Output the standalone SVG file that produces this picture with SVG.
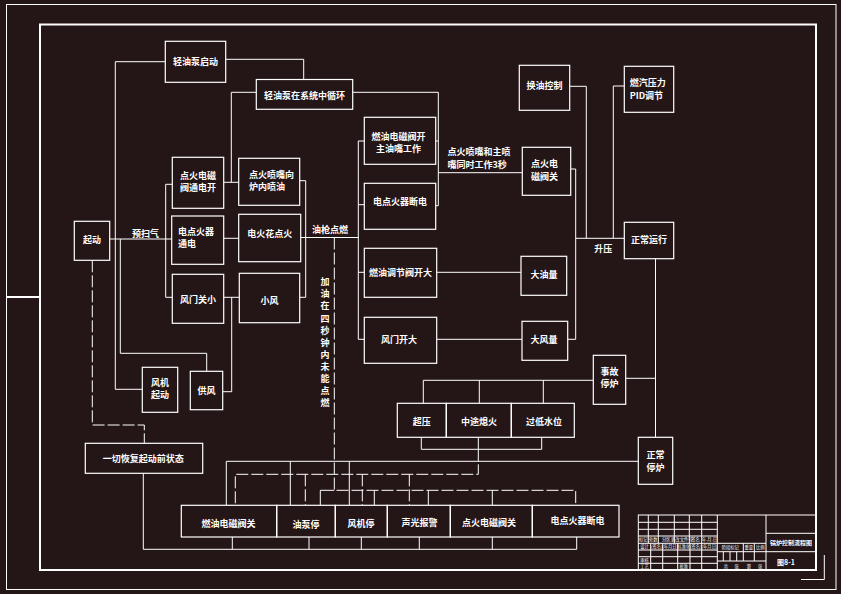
<svg xmlns="http://www.w3.org/2000/svg" width="841" height="594" viewBox="0 0 841 594">
<style>
.b{fill:none;stroke:#fff;stroke-width:1.2}
.c{fill:none;stroke:#fff;stroke-width:1}
.d{fill:none;stroke:#fff;stroke-width:1;stroke-dasharray:12 3}
.f{fill:none;stroke:#fff}
text{font-family:"Noto Sans CJK SC","Noto Sans",sans-serif;font-size:9px;font-weight:bold;fill:#fff}
.m{text-anchor:middle}
.t{font-size:4.3px;font-weight:normal;text-anchor:middle}
</style>
<rect x="0" y="0" width="841" height="594" fill="#241517"/>
<g id="frame">
<rect class="f" x="6.5" y="4.5" width="829.5" height="585" stroke-width="1"/>
<rect class="f" x="40" y="24.5" width="776" height="545.5" stroke-width="2"/>
<path class="f" d="M6.5,297 H40" stroke-width="2"/>
<path class="c" d="M824.3,555 V579.5 H801"/>
</g>
<g id="connectors">
<path class="c" d="M165.3,61.7 H115.3 V389.3 H142.3"/>
<path class="c" d="M225.7,59.3 H303.7 V79.3"/>
<path class="c" d="M256.3,92.3 H231.3 V182.3 M223.7,182.3 H238.7"/>
<path class="c" d="M352.7,92.3 H438.3 V205.7 H435.7 M435.7,141 H438.3"/>
<path class="c" d="M438.3,172.7 H522.3"/>
<path class="c" d="M109.7,239 H171.7"/>
<path class="c" d="M172.3,184.3 H165.7 V297.3 H172.3"/>
<path class="c" d="M120.3,239 V353.3 H206.7 V371.3"/>
<path class="c" d="M222.7,391.7 H231.7 V297.3"/>
<path class="c" d="M223.7,297.3 H239.3"/>
<path class="c" d="M223.7,238.3 H238.7"/>
<path class="c" d="M299.7,180.7 H305.7 V297.3 H299.7"/>
<path class="c" d="M300.7,237.5 H358.3"/>
<path class="c" d="M364.3,141 H358.3 V339.3 H364.3 M358.3,204.7 H364.3 M358.3,272.3 H364.3"/>
<path class="c" d="M436.7,272.3 H521"/>
<path class="c" d="M436.7,339.3 H522"/>
<path class="c" d="M570.7,169 H575.7 V339.3 H567.7"/>
<path class="c" d="M575.7,238.3 H624.3"/>
<path class="c" d="M569.7,86.3 H586.3 V238.3"/>
<path class="c" d="M624.3,86 H613.3 V238.3"/>
<path class="c" d="M655.5,258.7 V437.3"/>
<path class="c" d="M625.7,378.3 H655.5"/>
<path class="c" d="M593.3,380.3 H423.3 V403.3 M479.3,380.3 V403.3 M543.3,380.3 V403.3"/>
<path class="c" d="M421.3,437.3 V449.3 H541.7 V437.3 M478.3,437.3 V449.3"/>
<path class="c" d="M638.3,461.3 H226.3 V505.3 M290.3,461.3 V505.3 M349.3,461.3 V505.3"/>
<path class="c" d="M320.3,505.3 V490.3 H334.3 M374.3,490.3 V505.3 M428.3,490.3 V505.3 M492.3,490.3 V505.3"/>
<path class="c" d="M143.3,473.3 V549.3 H576.7 V537 M232.3,549.3 V537 M309,549.3 V537 M361.3,549.3 V537 M419.3,549.3 V537 M492.3,549.3 V537"/>
<path class="d" d="M92.3,260.3 V425 H144.3 V443.3"/>
<path class="d" d="M334.3,237.5 V490.3 H575.7 V505.3"/>
<path class="d" d="M478.3,449.3 V474.3 H235.3 V505.3 M305.3,474.3 V505.3 M362.3,474.3 V505.3 M409.3,474.3 V505.3"/>
</g>
<g id="n_qybqd"><rect class="b" x="165.3" y="41.3" width="60.4" height="41"/><text class="m" x="195.5" y="64.5">轻油泵启动</text></g>
<g id="n_qybxh"><rect class="b" x="256.3" y="79.5" width="96.4" height="29.8"/><text class="m" x="304.5" y="98.5">轻油泵在系统中循环</text></g>
<g id="n_dhdcf"><rect class="b" x="172.3" y="157.3" width="51.4" height="51"/><text class="m" x="198" y="179">点火电磁<tspan x="198" dy="12.2">阀通电开</tspan></text></g>
<g id="n_dhpz"><rect class="b" x="238.7" y="158.3" width="61" height="47"/><text x="249" y="177.5">点火喷嘴向<tspan x="249" dy="12.2">炉内喷油</tspan></text></g>
<g id="n_ddhq"><rect class="b" x="171.7" y="216" width="52" height="48.3"/><text x="178" y="235">电点火器<tspan x="178" dy="12.2">通电</tspan></text></g>
<g id="n_dhh"><rect class="b" x="238.7" y="214.3" width="62" height="47.4"/><text class="m" x="269.7" y="236.5">电火花点火</text></g>
<g id="n_fmgx"><rect class="b" x="172.3" y="274.3" width="51.4" height="49"/><text class="m" x="198" y="302.5">风门关小</text></g>
<g id="n_xf"><rect class="b" x="239.3" y="273.3" width="60.4" height="49.4"/><text class="m" x="269.5" y="303.5">小风</text></g>
<g id="n_qd"><rect class="b" x="74.3" y="221.3" width="35.4" height="39"/><text class="m" x="92" y="242.5">起动</text></g>
<g id="n_fjqd"><rect class="b" x="142.3" y="367.3" width="35.4" height="45"/><text class="m" x="160" y="385.5">风机<tspan x="160" dy="12.5">起动</tspan></text></g>
<g id="n_gf"><rect class="b" x="190.3" y="371.3" width="32.4" height="38.4"/><text class="m" x="206.5" y="393.5">供风</text></g>
<g id="labels">
<text class="m" x="145.5" y="237">预扫气</text>
<text class="m" x="330" y="232.5">油枪点燃</text>
<text x="447.5" y="155">点火喷嘴和主喷<tspan x="447.5" dy="12.5">嘴同时工作3秒</tspan></text>
<text class="m" x="603.3" y="251.5">升压</text>
<text class="m" x="325" y="285.2">加<tspan x="325" dy="12.1">油</tspan><tspan x="325" dy="12.1">在</tspan><tspan x="325" dy="12.1">四</tspan><tspan x="325" dy="12.1">秒</tspan><tspan x="325" dy="12.1">钟</tspan><tspan x="325" dy="12.1">内</tspan><tspan x="325" dy="12.1">未</tspan><tspan x="325" dy="12.1">能</tspan><tspan x="325" dy="12.1">点</tspan><tspan x="325" dy="12.1">燃</tspan></text>
</g>
<g id="n_ryfk"><rect class="b" x="364.3" y="117.3" width="71.4" height="47"/><text class="m" x="398.5" y="139.5">燃油电磁阀开<tspan x="398.5" dy="12.2">主油嘴工作</tspan></text></g>
<g id="n_ddhdd"><rect class="b" x="364.3" y="183.3" width="71.4" height="46"/><text class="m" x="400" y="205">电点火器断电</text></g>
<g id="n_rytj"><rect class="b" x="364.3" y="248.3" width="72.4" height="49"/><text class="m" x="400.5" y="275.5">燃油调节阀开大</text></g>
<g id="n_fmkd"><rect class="b" x="364.3" y="317.3" width="72.4" height="46"/><text class="m" x="399" y="342.5">风门开大</text></g>
<g id="n_dyl"><rect class="b" x="521" y="256.3" width="45.7" height="39"/><text class="m" x="544" y="278">大油量</text></g>
<g id="n_dfl"><rect class="b" x="522" y="321.3" width="45.7" height="39"/><text class="m" x="544" y="343">大风量</text></g>
<g id="n_dhdcg"><rect class="b" x="522.3" y="147.3" width="48.4" height="48"/><text x="531" y="167">点火电<tspan x="531" dy="12.5">磁阀关</tspan></text></g>
<g id="n_hykz"><rect class="b" x="519.3" y="65.3" width="50.4" height="45"/><text class="m" x="544.5" y="88.5">换油控制</text></g>
<g id="n_pid"><rect class="b" x="624.3" y="66.3" width="49.4" height="46"/><text x="629.7" y="86">燃汽压力<tspan x="629.7" dy="12.5">PID调节</tspan></text></g>
<g id="n_zcyx"><rect class="b" x="624.3" y="222.3" width="49.4" height="36.4"/><text class="m" x="649" y="242.5">正常运行</text></g>
<g id="n_sgtl"><rect class="b" x="593.3" y="355.3" width="32.4" height="49"/><text class="m" x="609.5" y="375">事故<tspan x="609.5" dy="12.2">停炉</tspan></text></g>
<g id="n_zctl"><rect class="b" x="638.3" y="437.3" width="34.4" height="47"/><text class="m" x="655.5" y="458.3">正常<tspan x="655.5" dy="12.2">停炉</tspan></text></g>
<g id="n_cy"><rect class="b" x="397.3" y="403.3" width="49" height="34"/><text class="m" x="421.8" y="424.5">超压</text></g>
<g id="n_ztxh"><rect class="b" x="446.3" y="403.3" width="65" height="34"/><text class="m" x="479" y="425">中途熄火</text></g>
<g id="n_gdsw"><rect class="b" x="511.3" y="403.3" width="63" height="34"/><text class="m" x="544" y="425">过低水位</text></g>
<g id="n_hf"><rect class="b" x="85.3" y="443.3" width="117.4" height="30"/><text class="m" x="143.3" y="461.5">一切恢复起动前状态</text></g>
<g id="n_b1"><rect class="b" x="181.3" y="505.3" width="95.4" height="31.7"/><text class="m" x="228.5" y="527">燃油电磁阀关</text></g>
<g id="n_b2"><rect class="b" x="276.7" y="505.3" width="58.6" height="31.7"/><text class="m" x="306" y="528">油泵停</text></g>
<g id="n_b3"><rect class="b" x="335.3" y="505.3" width="52" height="31.7"/><text class="m" x="361" y="527">风机停</text></g>
<g id="n_b4"><rect class="b" x="387.3" y="505.3" width="63" height="31.7"/><text class="m" x="419.5" y="526">声光报警</text></g>
<g id="n_b5"><rect class="b" x="450.3" y="505.3" width="82" height="31.7"/><text class="m" x="489" y="525.5">点火电磁阀关</text></g>
<g id="n_b6"><rect class="b" x="532.3" y="505.3" width="86.7" height="31.7"/><text class="m" x="577.5" y="524">电点火器断电</text></g>
<g id="titleblock">
<rect class="c" x="638.3" y="515" width="177.7" height="55"/>
<path class="c" d="M717.3,515 V570 M766,515 V570 M638.3,522.3 H717.3 M638.3,529.3 H717.3 M638.3,536 H717.3 M638.3,543.3 H766 M638.3,550 H717.3 M638.3,556.7 H717.3 M638.3,563.3 H717.3 M648.3,515 V543.3 M658.3,515 V543.3 M674.3,515 V543.3 M689.3,515 V543.3 M701.7,515 V570 M650.7,543.3 V570 M662.7,543.3 V570 M677.7,543.3 V570 M690,543.3 V570 M717.3,551.7 H766 M717.3,561 H766 M743.3,543.3 V561 M754.3,543.3 V561 M723.3,551.7 V561 M730,551.7 V561 M736.7,551.7 V561 M766,533.3 H816 M766,551.7 H816"/>
<text class="t" x="643.3" y="541">标记</text><text class="t" x="653.3" y="541">处数</text><text class="t" x="666.3" y="541">分区</text><text class="t" x="681.8" y="541">更改文件号</text><text class="t" x="695.5" y="541">签名</text><text class="t" x="709.5" y="541">年.月.日</text>
<text class="t" x="644.5" y="548">设计</text><text class="t" x="656.7" y="548">(签名)</text><text class="t" x="670.2" y="548">(年月日)</text><text class="t" x="683.8" y="548">标准化</text><text class="t" x="695.8" y="548">(签名)</text><text class="t" x="709.5" y="548">(年月日)</text>
<text class="t" x="730.3" y="549">阶段标记</text><text class="t" x="748.8" y="549">重量</text><text class="t" x="760.2" y="549">比例</text>
<text class="t" x="644.5" y="561.5">审核</text>
<text class="t" x="644.5" y="568.2">工艺</text><text class="t" x="683.8" y="568.2">批准</text>
<text class="t" x="726" y="567.5">共</text><text class="t" x="736.7" y="567.5">张</text><text class="t" x="748.8" y="567.5">第</text><text class="t" x="760.2" y="567.5">张</text>
<text class="m" x="791" y="545" style="font-size:6px">锅炉控制流程图</text>
<text class="m" x="786" y="564.5" style="font-size:7px">图8-1</text>
</g>
</svg>
